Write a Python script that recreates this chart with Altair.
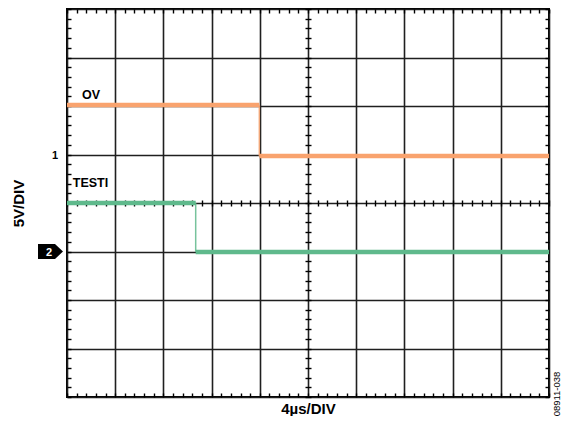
import altair as alt
import pandas as pd

FONT = "Liberation Sans"
W, H = 482, 388

# Graticule (divisions): 10 x 8 major, 5 minor per division
x_major = list(range(0, 11))
y_major = list(range(0, 9))
x_minor = [round(i * 0.2, 1) for i in range(0, 51)]
y_minor = [round(i * 0.2, 1) for i in range(0, 41)]

# Traces: time in divisions (4 us/div), level in divisions from bottom (5 V/div)
names = ["OV", "TESTI"]
colors = ["#F9A36E", "#5FB98C"]
ov_time = [0.0, 3.99, 10.0]      # start, edge, end
ov_level = [6.02, 4.97]          # before, after edge
testi_time = [0.0, 2.67, 10.0]
testi_level = [4.0, 2.99]

label_time = [0.31, 0.12]
label_level = [6.15, 4.34]

ch1_level = [5.0]
ch2_level = [3.0]
fig_id = ["08911-038"]

seg_rows, edge_rows = [], []
for name, tt, lv in [("OV", ov_time, ov_level), ("TESTI", testi_time, testi_level)]:
    seg_rows.append(dict(name=name, t0=tt[0], t1=tt[1], v=lv[0]))
    seg_rows.append(dict(name=name, t0=tt[1], t1=tt[2], v=lv[1]))
    edge_rows.append(dict(name=name, t=tt[1], v_hi=lv[0], v_lo=lv[1]))
seg_df = pd.DataFrame(seg_rows)
edge_df = pd.DataFrame(edge_rows)
lab_df = pd.DataFrame({"name": names, "t": label_time, "v": label_level})
dummy_df = pd.DataFrame({"t": [0.0], "v": [0.0]})

xs = alt.Scale(domain=[0, 10], nice=False, zero=False)
ys = alt.Scale(domain=[0, 8], nice=False, zero=False)
color = alt.Color("name:N", scale=alt.Scale(domain=names, range=colors), legend=None)


def grid_axis(orient, values, title, pad):
    return alt.Axis(orient=orient, values=values, grid=True, gridColor="#1f1f1f",
                    gridWidth=1.6, ticks=False, labels=False, domain=False,
                    title=title, titleFont=FONT, titleFontSize=15,
                    titleFontWeight="bold", titleColor="black", titlePadding=pad)


def tick_axis(orient, values, offset, size):
    return alt.Axis(orient=orient, values=values, offset=offset, tickSize=size,
                    tickColor="black", tickWidth=1.4, ticks=True, labels=False,
                    domain=False, grid=False, title="")


segs = alt.Chart(seg_df).mark_rule(strokeWidth=4.5).encode(
    x=alt.X("t0:Q", scale=xs, axis=grid_axis("bottom", x_major, "4µs/DIV", 4)),
    x2="t1:Q",
    y=alt.Y("v:Q", scale=ys, axis=grid_axis("left", y_major, "5V/DIV", 41)),
    color=color,
)

edges = alt.Chart(edge_df).mark_rule(strokeWidth=1.5, opacity=0.85).encode(
    x=alt.X("t:Q", scale=xs, axis=tick_axis("top", x_minor, -4, 4)),
    y=alt.Y("v_hi:Q", scale=ys, axis=tick_axis("right", y_minor, -4, 4)),
    y2="v_lo:Q",
    color=color,
)

frame_ticks = alt.Chart(dummy_df).mark_point(opacity=0).encode(
    x=alt.X("t:Q", scale=xs, axis=tick_axis("bottom", x_minor, -4, 4)),
    y=alt.Y("v:Q", scale=ys, axis=tick_axis("left", y_minor, -4, 4)),
)

center_ticks = alt.Chart(dummy_df).mark_point(opacity=0).encode(
    x=alt.X("t:Q", scale=xs, axis=tick_axis("bottom", x_minor, -(H / 2 + 3), 6)),
    y=alt.Y("v:Q", scale=ys, axis=tick_axis("left", y_minor, -(W / 2 + 3), 6)),
)

labels = alt.Chart(lab_df).mark_text(
    align="left", baseline="alphabetic", font=FONT, fontSize=12.5,
    fontWeight="bold", color="black"
).encode(
    x=alt.X("t:Q", scale=xs, axis=None),
    y=alt.Y("v:Q", scale=ys, axis=None),
    text="name:N",
)

ch1 = alt.Chart(pd.DataFrame({"v": ch1_level, "c": ["1"]})).mark_text(
    align="right", baseline="middle", dy=1, font=FONT, fontSize=11,
    fontWeight="bold", color="black"
).encode(x=alt.value(-9), y=alt.Y("v:Q", scale=ys, axis=None), text="c:N")

ch2_df = pd.DataFrame({"v": ch2_level, "c": ["2"]})
ch2_marker = alt.Chart(ch2_df).mark_point(
    shape="M-1,-0.6L0.36,-0.6L1,0L0.36,0.6L-1,0.6Z", size=625, filled=True,
    color="black", opacity=1, strokeWidth=0
).encode(x=alt.value(-16.5), y=alt.Y("v:Q", scale=ys, axis=None))
ch2_text = alt.Chart(ch2_df).mark_text(
    align="center", baseline="middle", dy=1, font=FONT, fontSize=11,
    fontWeight="bold", color="white"
).encode(x=alt.value(-18), y=alt.Y("v:Q", scale=ys, axis=None), text="c:N")

fid = alt.Chart(pd.DataFrame({"id": fig_id})).mark_text(
    angle=270, align="center", baseline="middle", font=FONT, fontSize=9.5,
    color="black"
).encode(x=alt.value(490), y=alt.value(385), text="id:N")

chart = alt.layer(
    segs, edges, frame_ticks, center_ticks, labels, ch1, ch2_marker, ch2_text, fid
).resolve_axis(x="independent", y="independent").properties(
    width=W, height=H,
    autosize=alt.AutoSizeParams(type="none"),
    padding={"left": 59, "top": 1, "right": 12, "bottom": 19},
).configure_view(stroke="black", strokeWidth=2)

chart.save("out.html", embed_options={"renderer": "svg", "actions": False})
